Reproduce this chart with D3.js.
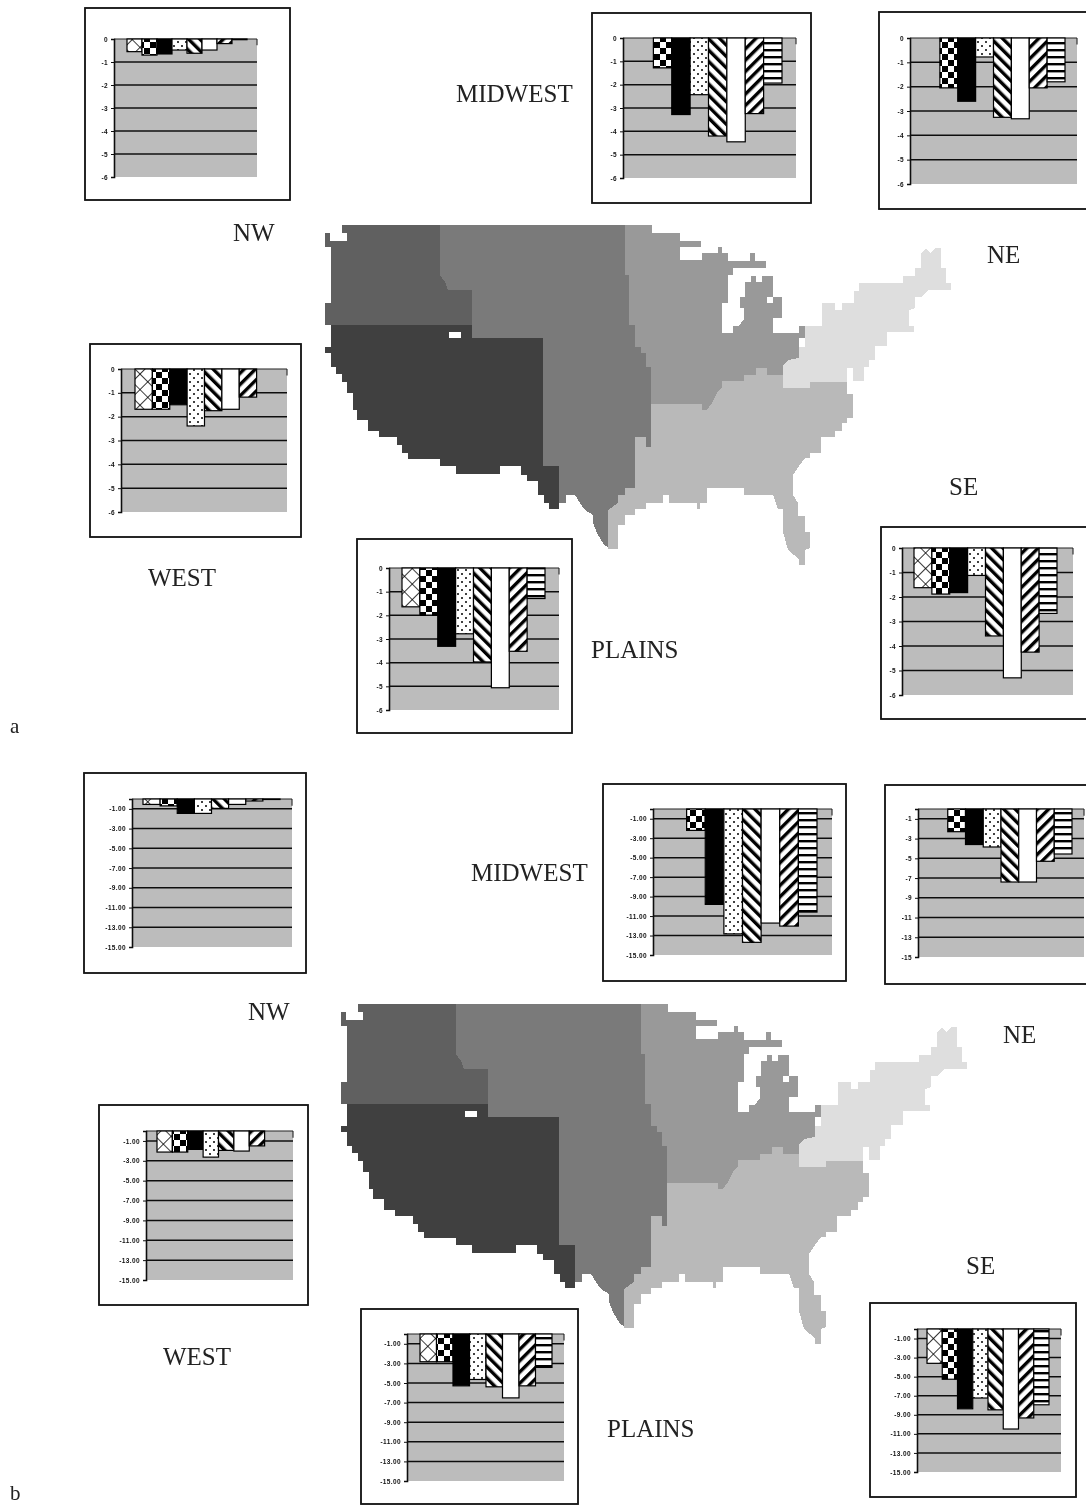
<!DOCTYPE html>
<html>
<head>
<meta charset="utf-8">
<script src="https://cdn.jsdelivr.net/npm/d3@7"></script>
<style>
  html, body { margin: 0; background: #fff; }
  svg { display: block; }
</style>
</head>
<body>
<div id="vis"></div>
<script>
// bar categories, one fill pattern each
const categories = ['cross', 'checker', 'solid', 'dots', 'back', 'white', 'forward', 'stripes'];

const ticksA = [0, -1, -2, -3, -4, -5, -6];
const ticksB = [-1, -3, -5, -7, -9, -11, -13, -15];

// panel a values
const nwA      = [-0.55, -0.70, -0.65, -0.48, -0.62, -0.48, -0.20, -0.03];
const midwestA = [0, -1.28, -3.28, -2.43, -4.20, -4.45, -3.24, -1.93];
const neA      = [0, -2.05, -2.60, -0.78, -3.26, -3.32, -2.05, -1.80];
const westA    = [-1.69, -1.69, -1.50, -2.39, -1.75, -1.69, -1.18, 0];
const plainsA  = [-1.64, -1.99, -3.31, -2.78, -3.97, -5.06, -3.52, -1.29];
const seA      = [-1.62, -1.88, -1.82, -1.12, -3.59, -5.30, -4.25, -2.67];

// panel b values
const nwB      = [-0.55, -0.70, -1.46, -1.46, -0.95, -0.55, -0.20, -0.05];
const midwestB = [0, -2.20, -9.80, -12.83, -13.70, -11.72, -12.03, -10.59];
const neB      = [0, -2.30, -3.60, -3.85, -7.40, -7.40, -5.30, -4.56];
const westB    = [-2.12, -2.12, -1.85, -2.63, -1.95, -2.02, -1.50, 0];
const plainsB  = [-2.83, -2.83, -5.29, -4.64, -5.39, -6.52, -5.29, -3.41];
const seB      = [-3.60, -5.27, -8.37, -7.24, -8.48, -10.49, -9.33, -7.95];

// map outlines, traced in panel a page units
const nwOutline = [[342,225],[440,225],[440,275],[445,282],[448,290],[472,290],[472,325],[325,325],[325,303],[331,303],[331,247],[325,247],[325,233],[330,233],[330,241],[347,241],[347,233],[342,233]];
const westOutline = [[331,325],[472,325],[472,338],[543,338],[543,466],[559,466],[559,509],[549,509],[549,503],[544,503],[544,495],[538,495],[538,481],[527,481],[527,475],[521,475],[521,466],[500,466],[500,474],[456,474],[456,466],[440,466],[440,459],[408,459],[408,453],[402,453],[402,445],[397,445],[397,437],[379,437],[379,431],[368,431],[368,420],[357,420],[357,410],[353,410],[353,393],[347,393],[347,382],[342,382],[342,374],[336,374],[336,367],[331,367],[331,353],[325,353],[325,347],[331,347]];
const plainsOutline = [[440,225],[625,225],[625,275],[629,275],[629,325],[635,325],[635,347],[641,347],[641,353],[646,353],[646,367],[651,367],[651,447],[646,447],[646,437],[635,437],[635,488],[625,488],[625,495],[618,495],[618,503],[608,510],[608,547],[604,545],[597,533],[593,523],[593,515],[585,510],[580,503],[575,495],[566,495],[566,503],[559,503],[559,466],[543,466],[543,338],[472,338],[472,290],[448,290],[445,282],[440,275]];
const midwestOutline = [[625,225],[652,225],[652,233],[680,233],[680,241],[701,241],[701,247],[680,247],[680,260],[702,260],[702,253],[718,253],[718,247],[722,247],[722,253],[728,253],[728,261],[750,261],[750,253],[755,253],[755,261],[766,261],[766,268],[733,268],[733,275],[728,275],[728,303],[722,303],[722,333],[733,333],[733,326],[739,326],[744,319],[744,308],[740,308],[740,297],[745,297],[745,282],[751,282],[751,276],[756,276],[756,282],[762,282],[762,276],[773,276],[773,297],[782,297],[782,318],[773,318],[773,333],[799,333],[799,326],[805,326],[805,338],[799,338],[799,358],[788,360],[783,366],[783,375],[767,375],[767,368],[756,368],[756,375],[744,375],[744,381],[722,381],[722,387],[717,393],[712,403],[707,410],[702,410],[702,404],[651,404],[651,367],[646,367],[646,353],[641,353],[641,347],[635,347],[635,325],[629,325],[629,275],[625,275]];
const seOutline = [[651,404],[702,404],[702,410],[707,410],[712,403],[717,393],[722,387],[722,381],[744,381],[744,375],[756,375],[756,368],[767,368],[767,375],[783,375],[783,388],[810,388],[810,382],[847,382],[847,394],[853,394],[853,418],[847,418],[847,423],[842,423],[842,431],[835,431],[835,437],[821,437],[821,453],[810,453],[810,458],[805,458],[799,466],[793,475],[793,495],[798,503],[798,516],[805,516],[805,532],[810,532],[810,548],[805,550],[805,565],[799,565],[799,559],[788,550],[783,532],[783,509],[778,509],[773,495],[744,495],[744,488],[707,488],[707,503],[700,503],[700,509],[697,509],[697,503],[669,503],[669,495],[663,495],[663,503],[646,503],[646,509],[635,509],[635,515],[625,515],[625,525],[618,525],[618,549],[608,549],[608,510],[618,503],[618,495],[625,495],[625,488],[635,488],[635,437],[646,437],[646,447],[651,447]];
const neOutline = [[805,326],[822,326],[822,303],[835,303],[835,310],[842,310],[842,303],[854,303],[854,291],[859,291],[859,283],[903,283],[903,276],[915,276],[915,268],[921,268],[921,253],[926,248],[930,253],[935,248],[941,248],[941,268],[946,268],[946,283],[951,283],[951,290],[928,290],[922,297],[915,297],[915,308],[909,310],[909,326],[914,326],[914,332],[887,332],[887,346],[875,346],[875,360],[869,360],[869,367],[864,367],[864,381],[853,381],[853,368],[847,368],[847,382],[810,382],[810,388],[783,388],[783,366],[788,360],[799,358],[799,347],[805,347]];
const holeColorado = [[449,332],[461,332],[461,338],[449,338]];
const holeMichigan = [[767,297],[773,297],[773,303],[767,303]];
const holeSuperior = [[680,253],[685,253],[685,260],[680,260]];

const regions = [
  {outline: nwOutline,      fill: '#606060'},
  {outline: westOutline,    fill: '#404040'},
  {outline: plainsOutline,  fill: '#7a7a7a'},
  {outline: midwestOutline, fill: '#999999'},
  {outline: seOutline,      fill: '#b9b9b9'},
  {outline: neOutline,      fill: '#dedede'},
  {outline: holeColorado,   fill: '#ffffff'},
  {outline: holeMichigan,   fill: '#ffffff'},
  {outline: holeSuperior,   fill: '#ffffff'}
];

// layout of the inset charts: box, plot area, bar band range
const charts = [
  {values: nwA,      ticks: ticksA, box: [85, 8, 205, 192],    plot: [114, 39, 257, 177],    band: [127, 247]},
  {values: midwestA, ticks: ticksA, box: [592, 13, 219, 190],  plot: [623, 38, 796, 178],    band: [635, 782]},
  {values: neA,      ticks: ticksA, box: [879, 12, 220, 197],  plot: [910, 38, 1077, 184],   band: [922, 1065]},
  {values: westA,    ticks: ticksA, box: [90, 344, 211, 193],  plot: [121, 369, 287, 512],   band: [135, 274]},
  {values: plainsA,  ticks: ticksA, box: [357, 539, 215, 194], plot: [389, 568, 559, 710],   band: [402, 545]},
  {values: seA,      ticks: ticksA, box: [881, 527, 220, 192], plot: [902, 548, 1073, 695],  band: [914, 1057]},
  {values: nwB,      ticks: ticksB, box: [84, 773, 222, 200],  plot: [132, 799, 292, 947],   band: [143, 280], fmt: '.2f'},
  {values: midwestB, ticks: ticksB, box: [603, 784, 243, 197], plot: [653, 809, 832, 955],   band: [668, 817], fmt: '.2f'},
  {values: neB,      ticks: ticksB, box: [885, 785, 220, 199], plot: [918, 809, 1084, 957],  band: [930, 1072], fmt: 'd'},
  {values: westB,    ticks: ticksB, box: [99, 1105, 209, 200], plot: [146, 1131, 293, 1280], band: [157, 280], fmt: '.2f'},
  {values: plainsB,  ticks: ticksB, box: [361, 1309, 217, 195], plot: [407, 1334, 564, 1481], band: [420, 552], fmt: '.2f'},
  {values: seB,      ticks: ticksB, box: [870, 1303, 206, 194], plot: [917, 1329, 1061, 1472], band: [927, 1049], fmt: '.2f'}
];

const labels = [
  ['MIDWEST', 456, 102], ['NW', 233, 241], ['NE', 987, 263], ['SE', 949, 495], ['WEST', 148, 586], ['PLAINS', 591, 658],
  ['MIDWEST', 471, 881], ['NW', 248, 1020], ['NE', 1003, 1043], ['SE', 966, 1274], ['WEST', 163, 1365], ['PLAINS', 607, 1437]
];
const panelLetters = [['a', 10, 733], ['b', 10, 1500]];

const width = 1086;
const height = 1505;

const svg = d3.select('#vis').append('svg')
    .attr('width', width)
    .attr('height', height);

const defs = svg.append('defs');

defs.append('filter').attr('id', 'soft')
    .attr('filterUnits', 'userSpaceOnUse')
    .attr('x', 0).attr('y', 0)
    .attr('width', width).attr('height', height)
    .append('feGaussianBlur').attr('stdDeviation', 0.7);

// patterns for the bars
function pattern(id, size, rotate) {
  const p = defs.append('pattern')
      .attr('id', id)
      .attr('patternUnits', 'userSpaceOnUse')
      .attr('width', size)
      .attr('height', size);
  if (rotate) p.attr('patternTransform', `rotate(${rotate})`);
  p.append('rect').attr('width', size).attr('height', size).attr('fill', '#fff');
  return p;
}

const pCross = pattern('cross', 11, 45);
pCross.append('path').attr('d', 'M0 0H11M0 0V11').attr('stroke', '#000').attr('stroke-width', 1.6);

const pChecker = pattern('checker', 12);
pChecker.append('rect').attr('width', 6).attr('height', 6).attr('fill', '#000');
pChecker.append('rect').attr('x', 6).attr('y', 6).attr('width', 6).attr('height', 6).attr('fill', '#000');

const pDots = pattern('dots', 8);
pDots.append('circle').attr('cx', 2).attr('cy', 2).attr('r', 1).attr('fill', '#000');
pDots.append('circle').attr('cx', 6).attr('cy', 6).attr('r', 1).attr('fill', '#000');

const pBack = pattern('back', 8, -45);
pBack.append('rect').attr('width', 3.4).attr('height', 8).attr('fill', '#000');

const pForward = pattern('forward', 8, 45);
pForward.append('rect').attr('width', 3.4).attr('height', 8).attr('fill', '#000');

const pStripes = pattern('stripes', 7);
pStripes.append('rect').attr('width', 7).attr('height', 2.4).attr('fill', '#000');

const barFill = d3.scaleOrdinal()
    .domain(categories)
    .range(['url(#cross)', 'url(#checker)', '#000', 'url(#dots)', 'url(#back)', '#fff', 'url(#forward)', 'url(#stripes)']);

const root = svg.append('g').attr('filter', 'url(#soft)');

// the map, once per panel
const mapLine = (x, y) => d3.line().x(d => x(d[0])).y(d => y(d[1])).curve(d3.curveLinearClosed);

function drawMap(dx, dy) {
  const x = d3.scaleLinear().domain([0, width]).range([dx, width + dx]);
  const y = d3.scaleLinear().domain([0, height]).range([dy, height + dy]);
  root.append('g').selectAll('path')
    .data(regions)
    .join('path')
      .attr('d', d => mapLine(x, y)(d.outline))
      .attr('fill', d => d.fill)
      .attr('shape-rendering', 'crispEdges');
}

drawMap(0, 0);
drawMap(16, 779);

// one inset bar chart
function drawChart(c) {
  const g = root.append('g');
  const [left, top, right, bottom] = c.plot;
  const ticks = c.ticks;

  g.append('rect')
      .attr('x', c.box[0])
      .attr('y', c.box[1])
      .attr('width', c.box[2])
      .attr('height', c.box[3])
      .attr('fill', '#fff')
      .attr('stroke', '#111')
      .attr('stroke-width', 1.8);

  const x = d3.scaleBand()
      .domain(categories)
      .range(c.band);

  const y = d3.scaleLinear()
      .domain([0, ticks === ticksA ? -6 : -15])
      .range([top, bottom]);

  g.append('rect')
      .attr('x', left)
      .attr('y', top)
      .attr('width', right - left)
      .attr('height', bottom - top)
      .attr('fill', '#bcbcbc');

  // gridlines
  g.selectAll('line.grid')
    .data(ticks.filter(d => d !== 0 && d !== y.domain()[1]))
    .join('line')
      .attr('class', 'grid')
      .attr('x1', left)
      .attr('x2', right)
      .attr('y1', d => y(d))
      .attr('y2', d => y(d))
      .attr('stroke', '#111')
      .attr('stroke-width', 1.5);

  // small stub on the right end of the top line
  g.append('line')
      .attr('x1', right)
      .attr('x2', right)
      .attr('y1', y(0))
      .attr('y2', y(-0.045 * (y.domain()[0] - y.domain()[1])))
      .attr('stroke', '#333')
      .attr('stroke-width', 1.2);

  g.append('line')
      .attr('x1', left)
      .attr('x2', right)
      .attr('y1', y(0))
      .attr('y2', y(0))
      .attr('stroke', '#222')
      .attr('stroke-width', 1.1);

  const rows = categories.map((name, i) => ({name, value: c.values[i]}));

  g.selectAll('rect.bar')
    .data(rows.filter(d => d.value !== 0))
    .join('rect')
      .attr('class', 'bar')
      .attr('x', d => x(d.name))
      .attr('y', y(0))
      .attr('width', x.bandwidth())
      .attr('height', d => y(d.value) - y(0))
      .attr('fill', d => barFill(d.name))
      .attr('stroke', '#000')
      .attr('stroke-width', 1.2);

  const fmt = c.fmt ? d3.format(c.fmt) : d3.format('d');
  const yAxis = d3.axisLeft(y)
      .tickValues(ticks)
      .tickSize(3)
      .tickPadding(3)
      .tickFormat(d => fmt(d).replace('\u2212', '-'));

  g.append('g')
      .attr('transform', `translate(${left},0)`)
      .call(yAxis)
      .call(a => a.select('.domain').attr('stroke', '#111').attr('stroke-width', 1.6))
      .call(a => a.selectAll('line').attr('stroke', '#111'))
      .selectAll('text')
      .attr('font-family', 'Liberation Sans, sans-serif')
      .attr('font-weight', 'bold')
      .attr('font-size', '6.5px')
      .attr('letter-spacing', '0.4px')
      .attr('fill', '#111');
}

charts.forEach(drawChart);

// region names
root.append('g').selectAll('text')
  .data(labels)
  .join('text')
    .attr('x', d => d[1])
    .attr('y', d => d[2])
    .attr('font-family', 'Liberation Serif, serif')
    .attr('font-size', '25px')
    .attr('fill', '#222')
    .text(d => d[0]);

root.append('g').selectAll('text')
  .data(panelLetters)
  .join('text')
    .attr('x', d => d[1])
    .attr('y', d => d[2])
    .attr('font-family', 'Liberation Serif, serif')
    .attr('font-size', '21px')
    .attr('fill', '#222')
    .text(d => d[0]);
</script>
</body>
</html>
